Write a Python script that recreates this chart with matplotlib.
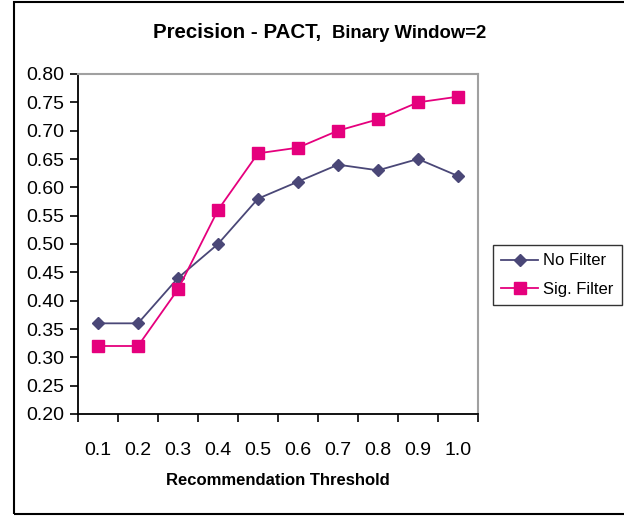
import matplotlib
matplotlib.use("Agg")
import matplotlib.pyplot as plt
from matplotlib.patches import Rectangle

plt.rcParams['font.family'] = ['Liberation Sans', 'DejaVu Sans']

thresholds = ["0.1", "0.2", "0.3", "0.4", "0.5", "0.6", "0.7", "0.8", "0.9", "1.0"]
no_filter = [0.36, 0.36, 0.44, 0.50, 0.58, 0.61, 0.64, 0.63, 0.65, 0.62]
sig_filter = [0.32, 0.32, 0.42, 0.56, 0.66, 0.67, 0.70, 0.72, 0.75, 0.76]
y_ticks = [0.20, 0.25, 0.30, 0.35, 0.40, 0.45, 0.50, 0.55, 0.60, 0.65, 0.70, 0.75, 0.80]

W, H = 624, 516
fig = plt.figure(figsize=(W / 100, H / 100), dpi=100)
ax = fig.add_axes([78 / W, 1 - 414 / H, 400 / W, 340 / H])

xs = list(range(1, len(thresholds) + 1))
ax.plot(xs, no_filter, color='#4A4777', marker='D', markersize=6.5,
        linewidth=1.3, label='No Filter')
ax.plot(xs, sig_filter, color='#E5007D', marker='s', markersize=8.5,
        linewidth=1.3, label='Sig. Filter')

ax.set_xlim(0.5, len(thresholds) + 0.5)
ax.set_ylim(0.20, 0.80)
ax.set_yticks(y_ticks)
ax.set_yticklabels([f"{v:.2f}" for v in y_ticks], fontsize=14)
ax.set_xticks([i + 0.5 for i in range(0, len(thresholds) + 1)])
ax.set_xticklabels([])
ax.set_xticks(xs, minor=True)
ax.set_xticklabels(thresholds, minor=True, fontsize=14)
ax.tick_params(axis='x', which='major', direction='out', length=6, width=1.2, color='black')
ax.tick_params(axis='x', which='minor', length=0, pad=20)
ax.tick_params(axis='y', direction='out', length=6, width=1.2, color='black', pad=4)

for s in ['top', 'right']:
    ax.spines[s].set_color('#A0A0A0')
    ax.spines[s].set_linewidth(1.5)
for s in ['left', 'bottom']:
    ax.spines[s].set_color('black')
    ax.spines[s].set_linewidth(1.3)

ax.set_xlabel('Recommendation Threshold', fontsize=12, fontweight='bold', labelpad=10)

fig.text(153 / W, 1 - 38 / H, 'Precision - PACT,', fontsize=14.8, fontweight='bold',
         ha='left', va='baseline')
fig.text(332 / W, 1 - 38 / H, 'Binary Window=2', fontsize=13.3, fontweight='bold',
         ha='left', va='baseline')

leg = fig.legend(loc='center', bbox_to_anchor=(557.5 / W, 1 - 275 / H), fontsize=12,
                 frameon=True, fancybox=False, edgecolor='black', borderpad=0.5,
                 handlelength=2.2, labelspacing=0.8, handletextpad=0.3)
leg.get_frame().set_linewidth(1.0)

fig.patches.append(Rectangle((14 / W, 2 / H), 1.2, 1 - 4 / H, transform=fig.transFigure,
                             fill=False, edgecolor='black', linewidth=1.5, figure=fig))

fig.savefig('out.png', dpi=100)
